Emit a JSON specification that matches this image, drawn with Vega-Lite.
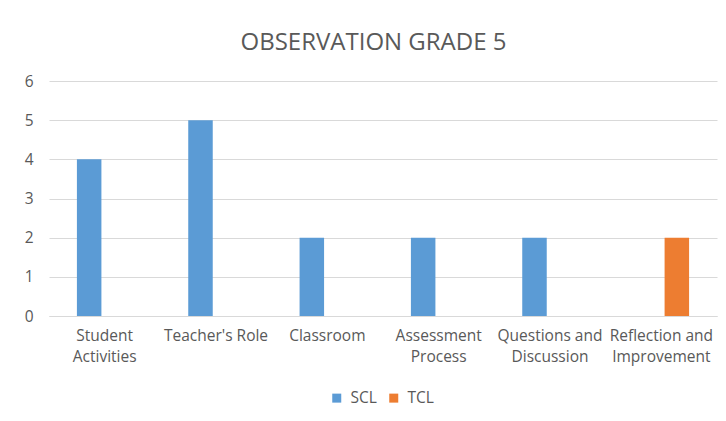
{
  "$schema": "https://vega.github.io/schema/vega-lite/v6.json",
  "width": 668,
  "height": 235,
  "autosize": "none",
  "padding": {"left": 49, "top": 81, "right": 9, "bottom": 105},
  "background": "white",
  "title": {
    "text": "OBSERVATION GRADE 5",
    "font": "Open Sans",
    "fontSize": 24,
    "fontWeight": "normal",
    "color": "#595959",
    "anchor": "middle",
    "frame": "group",
    "dx": -9.5,
    "offset": 19
  },
  "data": {
    "values": [
      {"category": "Student Activities", "series": "SCL", "value": 4},
      {"category": "Student Activities", "series": "TCL", "value": 0},
      {"category": "Teacher's Role", "series": "SCL", "value": 5},
      {"category": "Teacher's Role", "series": "TCL", "value": 0},
      {"category": "Classroom", "series": "SCL", "value": 2},
      {"category": "Classroom", "series": "TCL", "value": 0},
      {"category": "Assessment Process", "series": "SCL", "value": 2},
      {"category": "Assessment Process", "series": "TCL", "value": 0},
      {"category": "Questions and Discussion", "series": "SCL", "value": 2},
      {"category": "Questions and Discussion", "series": "TCL", "value": 0},
      {"category": "Reflection and Improvement", "series": "SCL", "value": 0},
      {"category": "Reflection and Improvement", "series": "TCL", "value": 2}
    ]
  },
  "mark": {"type": "bar", "strokeWidth": 0},
  "encoding": {
    "x": {
      "field": "category",
      "type": "nominal",
      "sort": null,
      "title": null,
      "scale": {"paddingInner": 0, "paddingOuter": 0},
      "axis": {
        "labelAngle": 0,
        "labelFont": "Open Sans",
        "labelFontSize": 15.5,
        "labelColor": "#595959",
        "labelPadding": 12,
        "labelLineHeight": 21,
        "labelLimit": 200,
        "ticks": false,
        "domain": true,
        "domainColor": "#d9d9d9",
        "domainWidth": 1,
        "grid": false,
        "labelExpr": "(datum.value == \"Teacher's Role\" || indexof(datum.value, ' ') < 0) ? datum.value : [substring(datum.value, 0, lastindexof(datum.value, ' ')), substring(datum.value, lastindexof(datum.value, ' ') + 1)]"
      }
    },
    "xOffset": {
      "field": "series",
      "type": "nominal",
      "scale": {"domain": ["SCL", "TCL"], "paddingInner": 0.21, "paddingOuter": 0.9}
    },
    "y": {
      "field": "value",
      "type": "quantitative",
      "title": null,
      "scale": {"domain": [0, 6], "nice": false},
      "axis": {
        "values": [0, 1, 2, 3, 4, 5, 6],
        "labelFont": "Open Sans",
        "labelFontSize": 15.5,
        "labelColor": "#595959",
        "labelPadding": 16,
        "ticks": false,
        "domain": false,
        "grid": true,
        "gridColor": "#d9d9d9",
        "gridWidth": 1
      }
    },
    "color": {
      "field": "series",
      "type": "nominal",
      "title": null,
      "scale": {"domain": ["SCL", "TCL"], "range": ["#5B9BD5", "#ED7D31"]},
      "legend": {
        "orient": "none",
        "legendX": 280,
        "legendY": 309,
        "direction": "horizontal",
        "symbolType": "square",
        "symbolSize": 81,
        "symbolStrokeWidth": 0,
        "labelFont": "Open Sans",
        "labelFontSize": 15.5,
        "labelColor": "#595959",
        "labelOffset": 6,
        "columnPadding": 9
      }
    }
  },
  "config": {
    "view": {"stroke": null}
  }
}
